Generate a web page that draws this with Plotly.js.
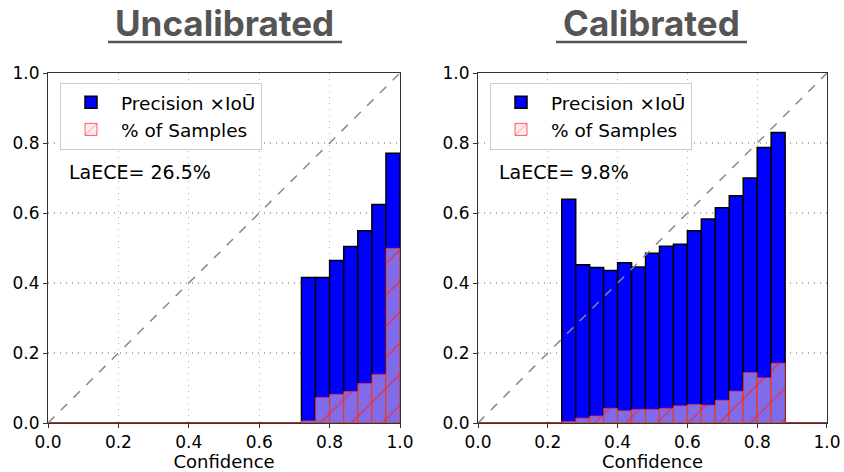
<!DOCTYPE html>
<html>
<head>
<meta charset="utf-8">
<script src="https://cdn.plot.ly/plotly-3.0.1.min.js"></script>
<style>html,body{margin:0;padding:0;background:#fff;}#chart{width:844px;height:472px;}</style>
</head>
<body>
<div id="chart"></div>
<script>
// bin centres (bin width 0.04)
const binCenters = [0.02,0.06,0.10,0.14,0.18,0.22,0.26,0.30,0.34,0.38,0.42,0.46,0.50,0.54,0.58,0.62,0.66,0.70,0.74,0.78,0.82,0.86,0.90,0.94,0.98];

const uncalPrecision = [0,0,0,0,0,0,0,0,0,0,0,0,0,0,0,0,0,0,0.416,0.416,0.464,0.504,0.549,0.624,0.771];
const uncalSamples   = [0,0,0,0,0,0,0,0,0,0,0,0,0,0,0,0,0,0,0.006,0.073,0.082,0.090,0.113,0.139,0.499];

const calPrecision = [0,0,0,0,0,0,0.639,0.452,0.444,0.436,0.458,0.446,0.485,0.505,0.511,0.549,0.583,0.615,0.649,0.700,0.787,0.830,0,0,0];
const calSamples   = [0,0,0,0,0,0,0.004,0.014,0.020,0.042,0.035,0.039,0.039,0.042,0.049,0.053,0.051,0.065,0.091,0.144,0.129,0.171,0,0,0];

const diagX = [0, 1];
const diagY = [0, 1];

const panelTitles = ['Uncalibrated', 'Calibrated'];
const laeceLabels = ['LaECE= 26.5%', 'LaECE= 9.8%'];
const seriesNames = ['Precision \u00d7Io\u016a', '% of Samples'];
const tickVals = [0, 0.2, 0.4, 0.6, 0.8, 1.0];

const FONT = 'DejaVu Sans, sans-serif';

function panel(prec, samp, xa, ya, leg) {
  return [
    {type:'bar', x:binCenters, y:prec, width:0.04, xaxis:xa, yaxis:ya, legend:leg,
     name:seriesNames[0], marker:{color:'#0000ff', line:{color:'#000', width:1.5}}, hoverinfo:'skip'},
    {type:'bar', x:binCenters, y:samp, width:0.04, xaxis:xa, yaxis:ya, legend:leg,
     name:seriesNames[1],
     marker:{color:'rgba(255,215,215,0.5)', line:{color:'rgba(255,40,40,0.75)', width:1},
             pattern:{shape:'/', fgcolor:'rgba(255,30,30,0.8)', bgcolor:'rgba(255,215,215,0.5)', fillmode:'replace', size:22, solidity:0.06}},
     hoverinfo:'skip'},
    {type:'scatter', mode:'lines', x:diagX, y:diagY, xaxis:xa, yaxis:ya, showlegend:false,
     line:{color:'#888', width:1.5, dash:'dash'}, hoverinfo:'skip'}
  ];
}

const data = panel(uncalPrecision, uncalSamples, 'x', 'y', 'legend')
  .concat(panel(calPrecision, calSamples, 'x2', 'y2', 'legend2'));

function axis(extra) {
  return Object.assign({
    range:[0,1], tickvals:tickVals, tickformat:'.1f', showline:true, mirror:true,
    linecolor:'#333', linewidth:1, ticks:'outside', ticklen:4, tickcolor:'#333',
    showgrid:true, gridcolor:'#b0b0b0', griddash:'1px,5px', gridwidth:1.2, zeroline:false,
    tickfont:{family:FONT, size:17, color:'#000'}, fixedrange:true
  }, extra);
}

const legendBase = {
  y:0.972, yanchor:'top', xanchor:'left', bgcolor:'rgba(255,255,255,0.9)',
  bordercolor:'#cccccc', borderwidth:1, font:{family:FONT, size:18.5, color:'#000'},
  itemwidth:50, tracegroupgap:2
};

const xTitle = {text:'Confidence', font:{family:FONT, size:18, color:'#000'}, standoff:5};

const titleFont = {family:'Inter, sans-serif', size:35, weight:700, color:'#555'};

const layout = {
  width:844, height:472,
  margin:{l:48, r:17, t:73, b:49},
  paper_bgcolor:'#fff', plot_bgcolor:'#fff',
  barmode:'overlay', bargap:0,
  showlegend:true,
  xaxis: axis({domain:[0, 0.4519], anchor:'y', title:xTitle}),
  yaxis: axis({domain:[0,1], anchor:'x'}),
  xaxis2: axis({domain:[0.552, 1], anchor:'y2', title:xTitle}),
  yaxis2: axis({domain:[0,1], anchor:'x2'}),
  legend: Object.assign({}, legendBase, {x:0.0154}),
  legend2: Object.assign({}, legendBase, {x:0.5674}),
  annotations:[
    {xref:'paper', yref:'paper', x:0.2272, y:1.142, text:panelTitles[0], showarrow:false,
     font:titleFont, xanchor:'center', yanchor:'middle'},
    {xref:'paper', yref:'paper', x:0.7747, y:1.142, text:panelTitles[1], showarrow:false,
     font:titleFont, xanchor:'center', yanchor:'middle'},
    {xref:'paper', yref:'paper', x:0.0244, y:0.717, text:laeceLabels[0], showarrow:false,
     font:{family:FONT, size:19, color:'#000'}, xanchor:'left', yanchor:'middle'},
    {xref:'paper', yref:'paper', x:0.5764, y:0.717, text:laeceLabels[1], showarrow:false,
     font:{family:FONT, size:19, color:'#000'}, xanchor:'left', yanchor:'middle'}
  ],
  shapes:[
    {type:'line', xref:'paper', yref:'paper', x0:0.077, x1:0.3774, y0:1.0886, y1:1.0886, line:{color:'#555', width:2.5}},
    {type:'line', xref:'paper', yref:'paper', x0:0.6521, x1:0.8973, y0:1.0886, y1:1.0886, line:{color:'#555', width:2.5}}
  ]
};

Plotly.newPlot('chart', data, layout, {staticPlot:true, displayModeBar:false});
</script>
</body>
</html>
